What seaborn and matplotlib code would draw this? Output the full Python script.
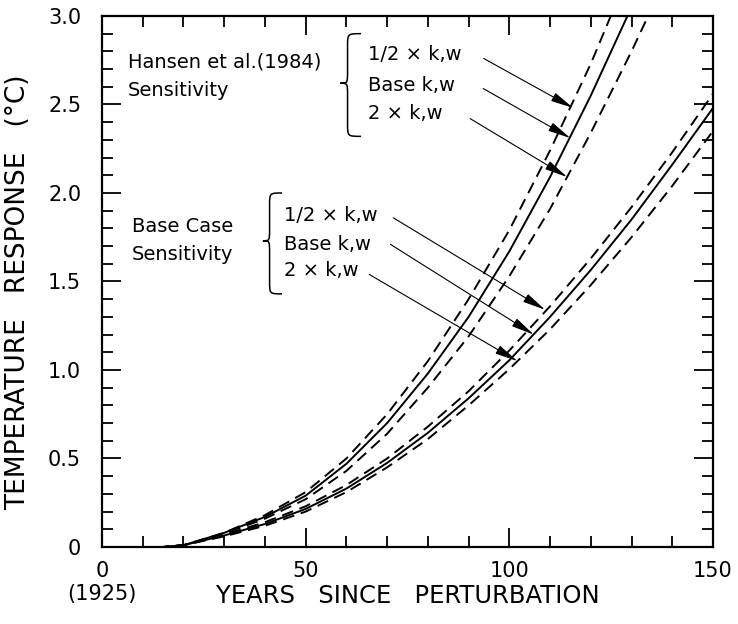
import matplotlib
matplotlib.use("Agg")
import matplotlib.pyplot as plt
import seaborn as sns
from matplotlib.path import Path
from matplotlib.patches import PathPatch
from matplotlib.ticker import MultipleLocator

# values (years since perturbation -> temperature response, degC)
years = [0, 10, 15, 20, 30, 40, 50, 60, 70, 80, 90, 100, 110, 120, 130, 140, 150]
hansen_half = [0, 0, 0, 0.01, 0.08, 0.18, 0.31, 0.50, 0.75, 1.05, 1.40, 1.79, 2.24, 2.73, 3.28, 3.88, 4.52]
hansen_base = [0, 0, 0, 0.01, 0.08, 0.17, 0.29, 0.47, 0.70, 0.98, 1.30, 1.67, 2.09, 2.55, 3.05, 3.61, 4.21]
hansen_double = [0, 0, 0, 0.01, 0.075, 0.16, 0.27, 0.43, 0.64, 0.90, 1.19, 1.53, 1.91, 2.34, 2.80, 3.29, 3.86]
base_half = [0, 0, 0, 0.01, 0.07, 0.14, 0.23, 0.35, 0.50, 0.68, 0.88, 1.11, 1.36, 1.63, 1.92, 2.23, 2.56]
base_base = [0, 0, 0, 0.01, 0.065, 0.13, 0.215, 0.33, 0.475, 0.645, 0.84, 1.055, 1.30, 1.565, 1.85, 2.16, 2.48]
base_double = [0, 0, 0, 0.01, 0.06, 0.12, 0.20, 0.31, 0.45, 0.61, 0.80, 1.005, 1.23, 1.48, 1.75, 2.04, 2.35]

case_labels = ["1/2 \u00d7 k,w", "Base k,w", "2 \u00d7 k,w"]
xtick_vals = [0, 50, 100, 150]
xtick_labels = ["0\n(1925)", "50", "100", "150"]
ytick_vals = [0, 0.5, 1.0, 1.5, 2.0, 2.5, 3.0]
ytick_labels = ["0", "0.5", "1.0", "1.5", "2.0", "2.5", "3.0"]

sns.set_style("ticks")
plt.rcParams['font.family'] = ['DejaVu Sans']
plt.rcParams['text.color'] = 'black'
plt.rcParams['axes.labelcolor'] = 'black'

fig = plt.figure(figsize=(7.38, 6.24), dpi=100)
ax = fig.add_axes([0.1382, 0.1234, 0.8279, 0.8510])

dash = (0, (6, 3.5))
for vals, ls in [(hansen_half, dash), (hansen_base, '-'), (hansen_double, dash),
                 (base_half, dash), (base_base, '-'), (base_double, dash)]:
    sns.lineplot(x=years, y=vals, ax=ax, color='black', linewidth=1.4, linestyle=ls)

ax.set_xlim(0, 150)
ax.set_ylim(0, 3.0)
ax.set_xticks(xtick_vals)
ax.set_xticklabels(xtick_labels)
ax.set_yticks(ytick_vals)
ax.set_yticklabels(ytick_labels)
ax.xaxis.set_minor_locator(MultipleLocator(10))
ax.yaxis.set_minor_locator(MultipleLocator(0.1))
ax.tick_params(which='both', direction='in', top=True, right=True, width=1.3,
               colors='black', labelcolor='black')
ax.tick_params(which='major', length=14, labelsize=15)
ax.tick_params(axis='x', which='major', pad=10)
ax.tick_params(axis='y', which='major', pad=15)
ax.tick_params(which='minor', length=8)
for s in ax.spines.values():
    s.set_linewidth(1.6)
    s.set_color('black')

ax.set_xlabel("YEARS   SINCE   PERTURBATION", fontsize=17.5, color='black')
ax.set_ylabel("TEMPERATURE   RESPONSE   (\u00b0C)", fontsize=19, color='black')
ax.xaxis.set_label_coords(0.5, -0.092)
ax.xaxis.label.set_va('center')
ax.yaxis.set_label_coords(-0.137, 0.48)
ax.yaxis.label.set_va('center')


def brace(x_tip, x_end, y_bot, y_top, y_mid, dy=0.07):
    xm = x_tip + 0.35 * (x_end - x_tip)
    verts = [(x_end, y_top), (xm, y_top), (xm, y_top), (xm, y_top - dy),
             (xm, y_mid + dy),
             (xm, y_mid), (xm, y_mid), (x_tip, y_mid),
             (xm, y_mid), (xm, y_mid), (xm, y_mid - dy),
             (xm, y_bot + dy),
             (xm, y_bot), (xm, y_bot), (x_end, y_bot)]
    codes = [Path.MOVETO, Path.CURVE4, Path.CURVE4, Path.CURVE4,
             Path.LINETO,
             Path.CURVE4, Path.CURVE4, Path.CURVE4,
             Path.CURVE4, Path.CURVE4, Path.CURVE4,
             Path.LINETO,
             Path.CURVE4, Path.CURVE4, Path.CURVE4]
    ax.add_patch(PathPatch(Path(verts, codes), fill=False, lw=1.1, color='black'))


def arrow(start, end):
    ax.annotate("", xy=end, xytext=start,
                arrowprops=dict(arrowstyle="-|>,head_length=1.4,head_width=0.28",
                                lw=0.8, color='black', shrinkA=0, shrinkB=0,
                                mutation_scale=10))


tfs = 14
# Hansen et al. group
ax.text(6.4, 2.74, "Hansen et al.(1984)", fontsize=tfs, va='center', ha='left')
ax.text(6.4, 2.58, "Sensitivity", fontsize=tfs, va='center', ha='left')
brace(58.5, 63.6, 2.32, 2.90, 2.62)
for lab, yy in zip(case_labels, [2.78, 2.61, 2.45]):
    ax.text(65.4, yy, lab, fontsize=tfs, va='center', ha='left')
arrow((93.7, 2.76), (115.7, 2.48))
arrow((93.6, 2.59), (115.0, 2.31))
arrow((90.4, 2.42), (114.2, 2.09))

# Base case group
ax.text(7.3, 1.81, "Base Case", fontsize=tfs, va='center', ha='left')
ax.text(7.3, 1.65, "Sensitivity", fontsize=tfs, va='center', ha='left')
brace(39.5, 44.2, 1.43, 2.00, 1.73)
for lab, yy in zip(case_labels, [1.87, 1.71, 1.56]):
    ax.text(44.6, yy, lab, fontsize=tfs, va='center', ha='left')
arrow((71.5, 1.86), (108.8, 1.34))
arrow((70.8, 1.71), (106.0, 1.20))
arrow((65.6, 1.54), (102.0, 1.05))

fig.savefig("out.png", dpi=100)
